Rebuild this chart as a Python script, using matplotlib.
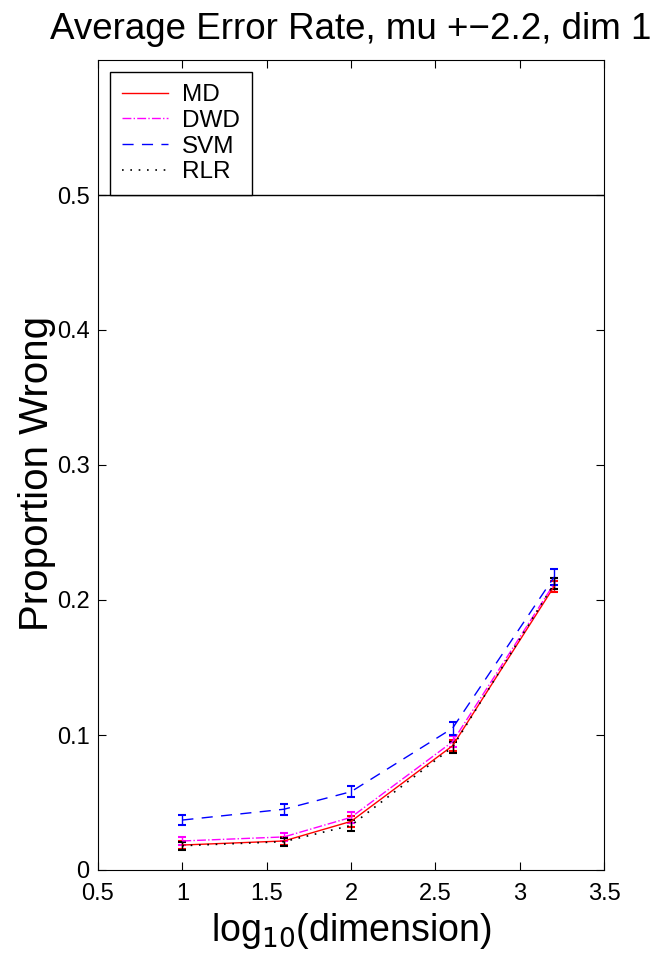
import matplotlib
matplotlib.use("Agg")
import matplotlib.pyplot as plt

plt.rcParams['font.family'] = ['Liberation Sans', 'DejaVu Sans']

# log10(dimension) for d = 10, 40, 100, 400, 1600
log_dim = [1.0, 1.602, 2.0, 2.602, 3.204]

md = [0.0185, 0.0215, 0.036, 0.092, 0.210]
md_err = [0.003, 0.003, 0.004, 0.004, 0.004]
dwd = [0.0215, 0.0245, 0.039, 0.095, 0.212]
dwd_err = [0.003, 0.003, 0.004, 0.004, 0.004]
svm = [0.037, 0.045, 0.058, 0.105, 0.217]
svm_err = [0.004, 0.004, 0.004, 0.005, 0.006]
rlr = [0.018, 0.021, 0.033, 0.091, 0.212]
rlr_err = [0.003, 0.003, 0.004, 0.004, 0.004]

fig = plt.figure(figsize=(6.65, 9.56), dpi=100)
ax = fig.add_axes([98 / 665, 1 - 870 / 956, 506 / 665, 810 / 956])

ax.errorbar(log_dim, md, yerr=md_err, color='red', linestyle='-', linewidth=1,
            capsize=3, capthick=1.5, elinewidth=1, label='MD')
ax.errorbar(log_dim, dwd, yerr=dwd_err, color='magenta', linestyle='-.', linewidth=1,
            capsize=3, capthick=1.5, elinewidth=1, label='DWD')
ax.errorbar(log_dim, svm, yerr=svm_err, color='blue', linestyle=(0, (8, 6)), linewidth=1,
            capsize=3, capthick=1.5, elinewidth=1, label='SVM')
ax.errorbar(log_dim, rlr, yerr=rlr_err, color='black', linestyle=(0, (1, 4)), linewidth=1.2,
            capsize=3, capthick=1.5, elinewidth=1, label='RLR')

ax.axhline(0.5, color='black', linewidth=1)

ax.set_xlim(0.5, 3.5)
ax.set_ylim(0, 0.6)
ax.set_xticks([0.5, 1, 1.5, 2, 2.5, 3, 3.5])
ax.set_xticklabels(['0.5', '1', '1.5', '2', '2.5', '3', '3.5'])
ax.set_yticks([0, 0.1, 0.2, 0.3, 0.4, 0.5])
ax.set_yticklabels(['0', '0.1', '0.2', '0.3', '0.4', '0.5'])
ax.tick_params(direction='in', top=True, right=True, labelsize=17, length=6)
ax.tick_params(axis='y', pad=6)
ax.tick_params(axis='x', pad=9.5)

ax.set_title('Average Error Rate, mu +\u22122.2, dim 1', fontsize=26.5, pad=15)
ax.set_xlabel('log$_{10}$(dimension)', fontsize=27, labelpad=4)
ax.set_ylabel('Proportion Wrong', fontsize=29)
ax.yaxis.set_label_coords(-0.083, 0.49)

handles, labels = ax.get_legend_handles_labels()
handles = [h[0] for h in handles]
leg = ax.legend(handles, labels, loc='upper left', fontsize=17.5, fancybox=False,
                edgecolor='black', framealpha=1, handlelength=1.9,
                handletextpad=0.55, borderpad=0.5,
                borderaxespad=0.5, labelspacing=0.15)
leg.get_frame().set_linewidth(1)

fig.savefig('out.png', dpi=100)
